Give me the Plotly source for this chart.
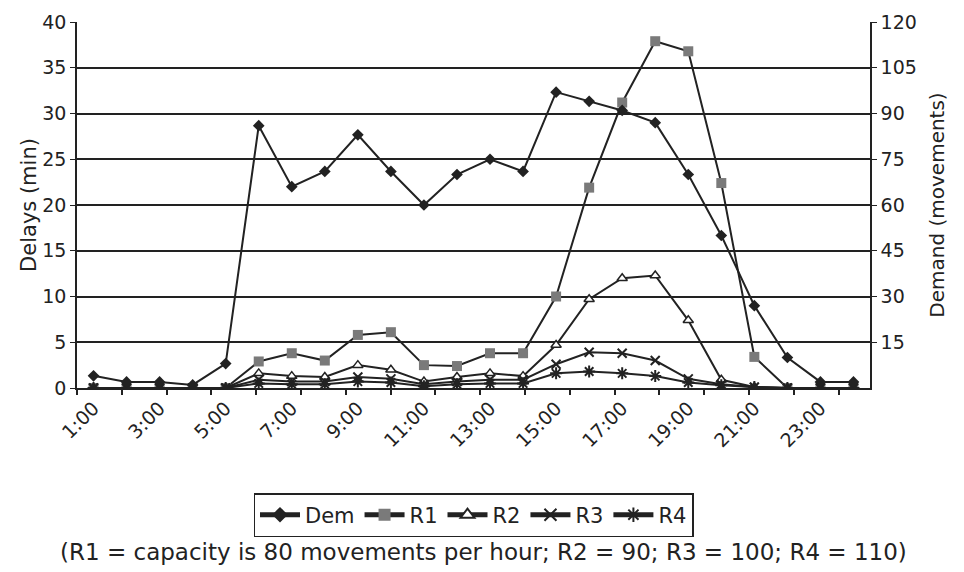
import plotly.graph_objects as go

hours = [f"{h}:00" for h in range(1, 25)]
tick_labels = [f"{h}:00" for h in range(1, 24, 2)]

dem = [4, 2, 2, 1, 8, 86, 66, 71, 83, 71, 60, 70, 75, 71, 97, 94, 91, 87, 70, 50, 27, 10, 2, 2]
r1 = [0, 0, 0, 0, 0, 2.9, 3.8, 3.0, 5.8, 6.1, 2.5, 2.4, 3.8, 3.8, 10.0, 21.9, 31.2, 37.9, 36.8, 22.4, 3.4, 0, 0, 0]
r2 = [0, 0, 0, 0, 0, 1.6, 1.3, 1.2, 2.5, 2.0, 0.7, 1.2, 1.6, 1.3, 4.7, 9.7, 12.0, 12.3, 7.4, 0.9, 0.1, 0, 0, 0]
r3 = [0, 0, 0, 0, 0, 0.9, 0.7, 0.7, 1.2, 1.0, 0.4, 0.7, 0.9, 0.9, 2.6, 3.9, 3.8, 3.0, 1.0, 0.4, 0.1, 0, 0, 0]
r4 = [0, 0, 0, 0, 0, 0.5, 0.4, 0.4, 0.7, 0.6, 0.2, 0.4, 0.5, 0.5, 1.6, 1.8, 1.6, 1.3, 0.6, 0.3, 0.1, 0, 0, 0]

FONT = "DejaVu Sans, Liberation Sans, Arial, sans-serif"
INK = "#222222"
xs = list(range(len(hours)))

fig = go.Figure()
fig.add_trace(go.Scatter(x=xs, y=dem, name="Dem", yaxis="y2", mode="lines+markers",
                         line=dict(color=INK, width=2),
                         marker=dict(symbol="diamond", size=9, color=INK)))
fig.add_trace(go.Scatter(x=xs, y=r1, name="R1", mode="lines+markers",
                         line=dict(color=INK, width=2),
                         marker=dict(symbol="square", size=10, color="#7a7a7a")))
fig.add_trace(go.Scatter(x=xs, y=r2, name="R2", mode="lines+markers",
                         line=dict(color=INK, width=2),
                         marker=dict(symbol="triangle-up", size=9, color="white",
                                     line=dict(color=INK, width=1.5))))
fig.add_trace(go.Scatter(x=xs, y=r3, name="R3", mode="lines+markers",
                         line=dict(color=INK, width=2),
                         marker=dict(symbol="x-thin-open", size=9,
                                     line=dict(color=INK, width=2))))
fig.add_trace(go.Scatter(x=xs, y=r4, name="R4", mode="lines+markers",
                         line=dict(color=INK, width=2),
                         marker=dict(symbol="asterisk-open", size=10,
                                     line=dict(color="#777777", width=2))))
# invisible trace to carry the secondary tick-mark axis
fig.add_trace(go.Scatter(x=[], y=[], xaxis="x2", showlegend=False, hoverinfo="skip"))

fig.update_layout(
    width=956, height=564,
    margin=dict(l=69, r=94, t=14, b=184, autoexpand=False),
    paper_bgcolor="white", plot_bgcolor="white",
    font=dict(family=FONT, size=19, color=INK),
    showlegend=True,
    legend=dict(orientation="h", x=0.5, xanchor="center", y=-0.287, yanchor="top",
                bordercolor=INK, borderwidth=1.5, font=dict(size=21),
                itemwidth=40, tracegroupgap=0, itemsizing="constant"),
    xaxis=dict(range=[-0.5, 23.5], tickmode="array", tickvals=xs[::2], ticktext=tick_labels,
               tickangle=-45, ticks="", showgrid=False, zeroline=False, automargin=False,
               showline=True, linecolor=INK, linewidth=1.5,
               tickfont=dict(size=19, family=FONT, color=INK)),
    xaxis2=dict(overlaying="x", range=[0, 17.7], tick0=0, dtick=1, ticks="outside",
                ticklen=6, tickwidth=1.5, tickcolor=INK, showticklabels=False, automargin=False,
                showgrid=False, zeroline=False, showline=False, side="bottom"),
    yaxis=dict(range=[0, 40], dtick=5, showgrid=True, gridcolor=INK, gridwidth=1.5,
               zeroline=False, showline=True, linecolor=INK, linewidth=1.5, automargin=False,
               ticks="outside", ticklen=5, tickcolor=INK,
               title=dict(text="Delays (min)", font=dict(size=21), standoff=0),
               tickfont=dict(size=19)),
    yaxis2=dict(range=[0, 120], overlaying="y", side="right", automargin=False,
                showgrid=False, zeroline=False, showline=True, linecolor=INK, linewidth=1.5,
                ticks="outside", ticklen=5, tickcolor=INK,
                tickvals=[15, 30, 45, 60, 75, 90, 105, 120],
                title=dict(text="Demand (movements)", font=dict(size=20), standoff=14),
                tickfont=dict(size=19)),
    annotations=[dict(text="(R1 = capacity is 80 movements per hour; R2 = 90; R3 = 100; R4 = 110)",
                      xref="paper", yref="paper", x=0.513, y=-0.448, xanchor="center",
                      yanchor="middle", showarrow=False, font=dict(size=23, color=INK))],
)

fig.write_html("out.html")
